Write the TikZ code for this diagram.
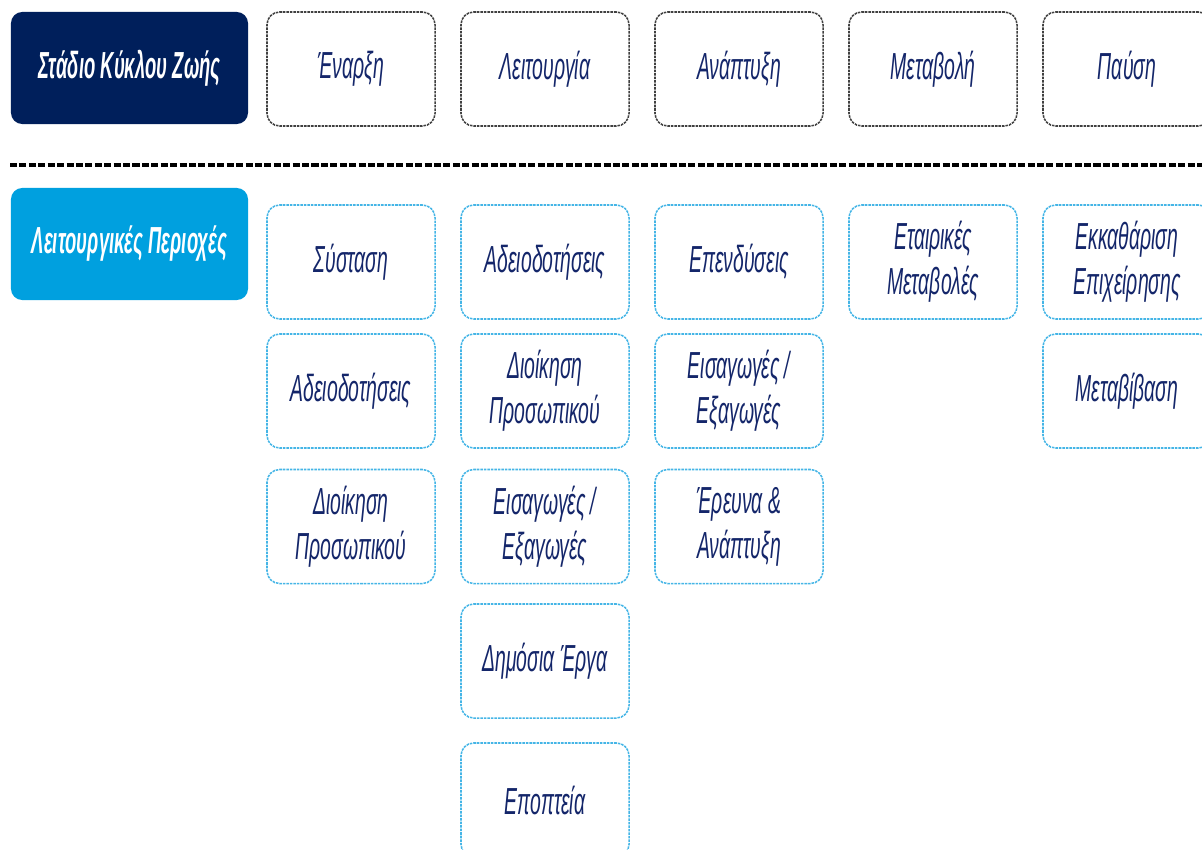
\documentclass[tikz,border=0pt]{standalone}
\usepackage{fontspec}
\setmainfont{Liberation Sans}
\newfontfamily\narrowfont[FakeStretch=0.515]{Liberation Sans}
\newfontfamily\headfont[FakeStretch=0.49]{Liberation Sans}
\definecolor{navy}{HTML}{001F5B}
\definecolor{skyblue}{HTML}{00A0DF}
\definecolor{inkblue}{HTML}{14266A}
\definecolor{lineblue}{HTML}{45B5E6}
\newcommand{\boxtext}{\narrowfont\itshape\fontsize{26.8}{32}\selectfont}
\newcommand{\headtext}{\headfont\bfseries\itshape\fontsize{26.8}{32}\selectfont}
\tikzset{
  stagebox/.style={draw=black!75, dash pattern=on 1.8pt off 0.7pt, line width=1.1pt,
    rounded corners=9pt, minimum width=4.2cm, minimum height=2.85cm,
    text=inkblue, font=\boxtext, align=center},
  areabox/.style={stagebox, draw=lineblue},
  headbox/.style={rounded corners=8pt, minimum width=5.925cm, minimum height=2.8cm,
    text=white, font=\headtext},
  sepline/.style={line width=2.9pt, dash pattern=on 5pt off 1.7pt},
}

\begin{document}
\begin{tikzpicture}[x=0.025cm, y=-0.025cm]
    \clip (0,0) rectangle (1202,849);
    % headings
    \node[headbox, fill=navy] (stage) at (129.5,68) {Στάδιο Κύκλου Ζωής};
    \node[headbox, fill=skyblue] (areas) at (129.5,244) {Λειτουργικές Περιοχές};
    % lifecycle stages
    \node[stagebox] (start) at (351,69) {Έναρξη};
    \node[stagebox] (run) at (545,69) {Λειτουργία};
    \node[stagebox] (grow) at (739,69) {Ανάπτυξη};
    \node[stagebox] (change) at (933,69) {Μεταβολή};
    \node[stagebox] (pause) at (1127,69) {Παύση};
    % separator
    \coordinate (sepL) at (10,165);
    \coordinate (sepR) at (1202,165);
    \draw[sepline] (sepL) -- (sepR);
    % areas: start
    \node[areabox] (start1) at (351,262) {Σύσταση};
    \node[areabox] (start2) at (351,391) {Αδειοδοτήσεις};
    \node[areabox] (start3) at (351,526.5) {Διοίκηση\\Προσωπικού};
    % areas: run
    \node[areabox] (run1) at (545,262) {Αδειοδοτήσεις};
    \node[areabox] (run2) at (545,391) {Διοίκηση\\Προσωπικού};
    \node[areabox] (run3) at (545,526.5) {Εισαγωγές /\\Εξαγωγές};
    \node[areabox] (run4) at (545,661) {Δημόσια Έργα};
    \node[areabox] (run5) at (545,800) {Εποπτεία};
    % areas: grow
    \node[areabox] (grow1) at (739,262) {Επενδύσεις};
    \node[areabox] (grow2) at (739,391) {Εισαγωγές /\\Εξαγωγές};
    \node[areabox] (grow3) at (739,526.5) {Έρευνα \&\\Ανάπτυξη};
    % areas: change
    \node[areabox] (change1) at (933,262) {Εταιρικές\\Μεταβολές};
    % areas: pause
    \node[areabox] (pause1) at (1127,262) {Εκκαθάριση\\Επιχείρησης};
    \node[areabox] (pause2) at (1127,391) {Μεταβίβαση};
\end{tikzpicture}
\end{document}
